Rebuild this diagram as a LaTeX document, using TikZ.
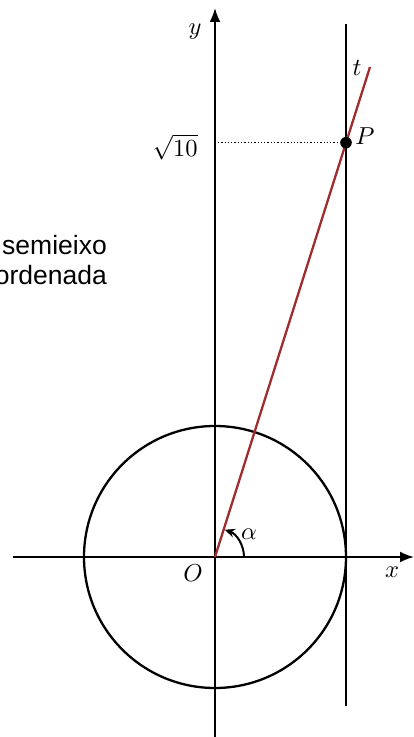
\documentclass[tikz,border=0pt]{standalone}
\usepackage{fontspec}
\newfontfamily\labelsans{Liberation Sans}
\usetikzlibrary{arrows.meta}
\definecolor{tred}{RGB}{160,45,45}
\begin{document}
\begin{tikzpicture}[x=1pt,y=1pt,
  axis/.style={line width=1.9pt},
  curve/.style={line width=2.3pt},
  lbl/.style={inner sep=0pt,scale=2.45},
  side/.style={inner sep=0pt,font=\labelsans\fontsize{26.5}{30}\selectfont}]
\useasboundingbox (-215,-180) rectangle (199,557);
\coordinate (O) at (0,0);
\coordinate (xl) at (-202,0);
\coordinate (xr) at (199,0);
\coordinate (yb) at (0,-180);
\coordinate (yt) at (0,549);
\coordinate (vb) at (131,-149);
\coordinate (vt) at (131,533);
\coordinate (P) at (131,414.3);
\coordinate (tend) at (155,490);
\coordinate (d1) at (3,414.3);
\coordinate (d2) at (125,414.3);
% axes
\draw[axis,-{Latex[length=14pt,width=11pt]}] (xl) -- (xr);
\draw[axis,-{Latex[length=14pt,width=11pt]}] (yb) -- (yt);
% circle
\draw[curve] (O) circle[radius=131];
% tangent line
\draw[axis] (vb) -- (vt);
% red line
\draw[curve,tred] (O) -- (tend);
% dotted
\draw[dotted,line width=1.3pt] (d1) -- (d2);
\fill (P) circle[radius=5.8];
% angle arc
\draw[line width=2pt,-{Stealth[length=10pt,width=9pt]}] (29,0) arc[start angle=0,end angle=70,radius=29];
% labels
\node[lbl,anchor=east] (s10) at (-17,410) {$\sqrt{10}$};
\node[lbl,anchor=west] (Pl) at (140,421) {$P$};
\node[lbl] (yl) at (-20,525) {$y$};
\node[lbl] (tl) at (142,489) {$t$};
\node[lbl] (Ol) at (-22,-16) {$O$};
\node[lbl] (xlab) at (177,-15) {$x$};
\node[lbl] (al) at (34,23) {$\alpha$};
\node[side,anchor=base east] (s1) at (-108,302) {semieixo};
\node[side,anchor=base east] (s2) at (-108,272) {ordenada};
\end{tikzpicture}
\end{document}
